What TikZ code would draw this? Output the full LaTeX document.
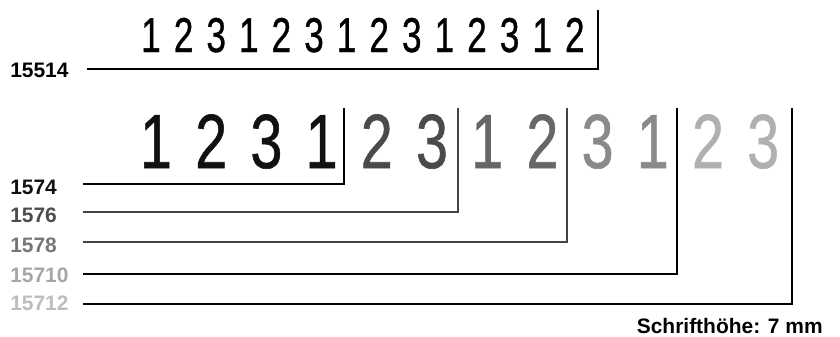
\documentclass[tikz,border=0pt]{standalone}
\usepackage{fontspec}
\setmainfont{Liberation Sans}
\newfontfamily\stampfont{Liberation Sans}[FakeBold=0.8]
\usetikzlibrary{positioning}
\definecolor{inkA}{HTML}{111111}
\definecolor{inkB}{HTML}{4A4A4A}
\definecolor{inkC}{HTML}{676767}
\definecolor{inkD}{HTML}{8A8A8A}
\definecolor{inkE}{HTML}{B0B0B0}
\definecolor{tagB}{HTML}{4D4D4D}
\definecolor{tagC}{HTML}{777777}
\definecolor{tagD}{HTML}{A6A6A6}
\definecolor{tagE}{HTML}{BDBDBD}
\definecolor{ruleB}{HTML}{444444}
\newcommand{\narrow}[2][0.72]{\scalebox{#1}[1]{#2}}
\tikzset{
  tag/.style={font=\bfseries\fontsize{14.9}{16}\selectfont, inner sep=0pt, anchor=west},
  note/.style={font=\bfseries\fontsize{14.9}{16}\selectfont, inner sep=0pt, anchor=base east},
  digitsmall/.style={font=\stampfont\fontsize{34.8}{36}\selectfont, inner sep=0pt, anchor=base},
  digitbig/.style={font=\stampfont\fontsize{54.6}{56}\selectfont, inner sep=0pt, anchor=base},
  rule/.style={line width=0.8pt}
}

\begin{document}
\begin{tikzpicture}[x=0.025cm, y=-0.025cm]
  \useasboundingbox (0,0) rectangle (840,336);
  % 15514 row
  \foreach \d [count=\i from 0] in {1,2,3,1,2,3,1,2,3,1,2,3,1,2}
    \node[digitsmall] (s\i) at ({151+32.6*\i},52) {\narrow{\d}};
  \node[tag] (l15514) at (10,70.5) {15514};
  \coordinate (a15514) at (87,69);
  \coordinate (t15514) at (598,10);
  \draw[rule] (a15514) -| (t15514);

  % 157x rows
  \foreach \d/\c [count=\i from 0] in {1/inkA,2/inkA,3/inkA,1/inkA,2/inkB,3/inkB,1/inkC,2/inkC,3/inkD,1/inkD,2/inkE,3/inkE}
    \node[digitbig, text=\c] (b\i) at ({156+55.2*\i},168) {\narrow[0.75]{\d}};

  \node[tag, text=inkA] (l1574) at (10,187) {1574};
  \node[tag, text=tagB] (l1576) at (10,215) {1576};
  \node[tag, text=tagC] (l1578) at (10,245) {1578};
  \node[tag, text=tagD] (l15710) at (10,275) {15710};
  \node[tag, text=tagE] (l15712) at (10,303) {15712};

  \coordinate (a1574) at (83,184);
  \coordinate (a1576) at (83,212);
  \coordinate (a1578) at (83,242);
  \coordinate (a15710) at (83,274);
  \coordinate (a15712) at (83,304);
  \coordinate (t1574) at (344,108);
  \coordinate (t1576) at (458,108);
  \coordinate (t1578) at (567,108);
  \coordinate (t15710) at (677,108);
  \coordinate (t15712) at (792,108);

  \draw[rule] (a1574) -| (t1574);
  \draw[rule, ruleB] (a1576) -| (t1576);
  \draw[rule, ruleB] (a1578) -| (t1578);
  \draw[rule] (a15710) -| (t15710);
  \draw[rule] (a15712) -| (t15712);

  \node[note] (height) at (823,333) {Schrifthöhe: 7 mm};
\end{tikzpicture}
\end{document}
